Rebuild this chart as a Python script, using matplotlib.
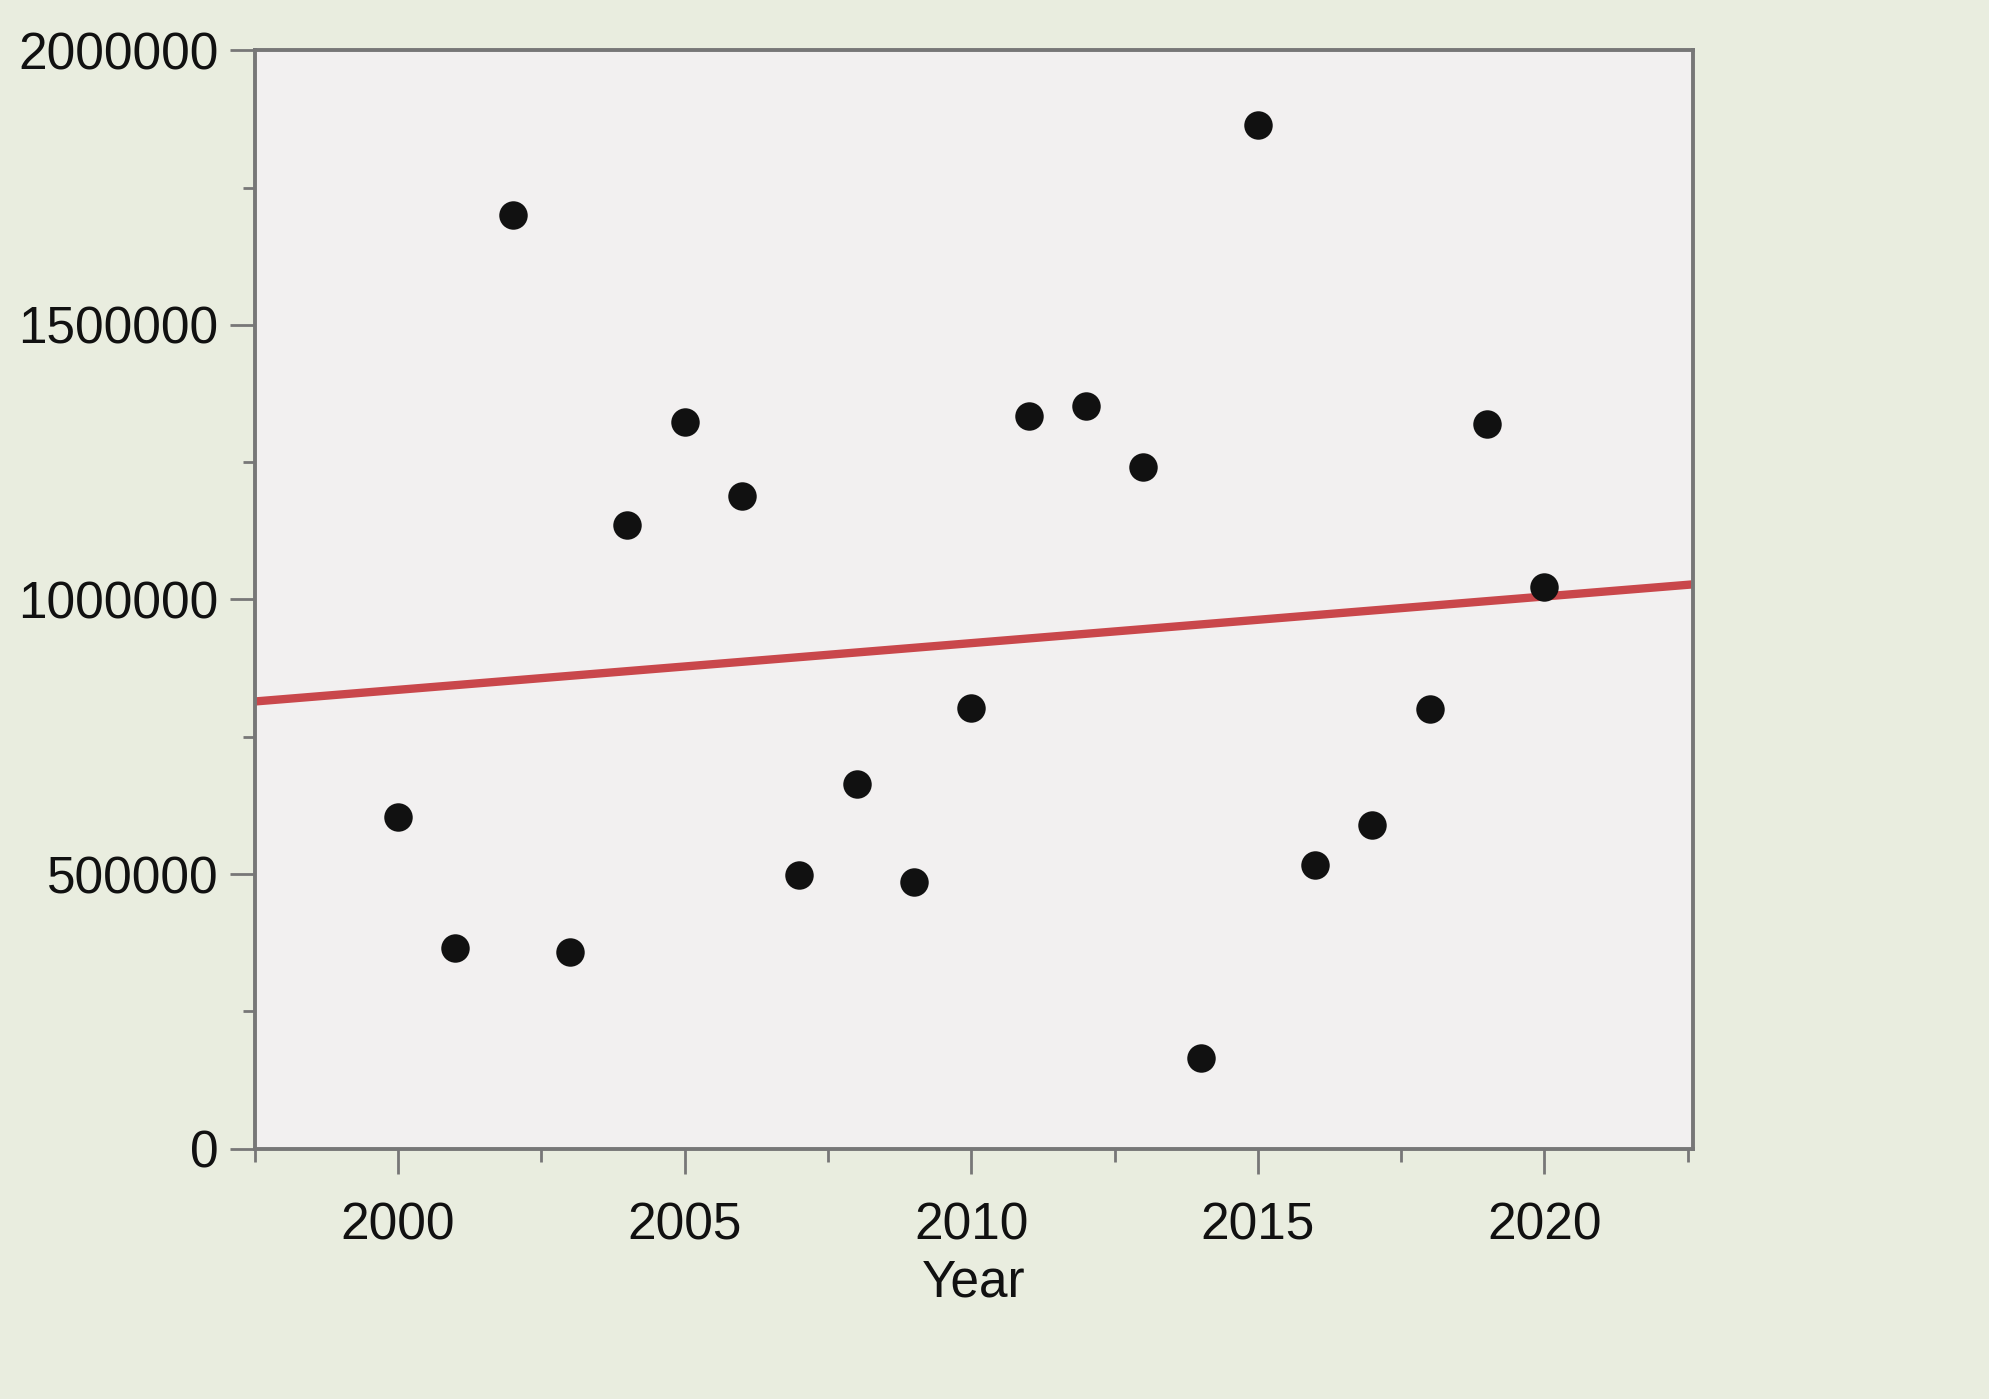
import numpy as np
import matplotlib
matplotlib.use("Agg")
import matplotlib.pyplot as plt
from matplotlib.ticker import MultipleLocator

years = [2000, 2001, 2002, 2003, 2004, 2005, 2006, 2007, 2008, 2009, 2010,
         2011, 2012, 2013, 2014, 2015, 2016, 2017, 2018, 2019, 2020]
values = [604000, 366000, 1700000, 358000, 1135000, 1323000, 1188000, 498000,
          664000, 486000, 802000, 1335000, 1353000, 1241000, 165000, 1864000,
          516000, 590000, 800000, 1319000, 1023000]
x_ticks = [2000, 2005, 2010, 2015, 2020]
y_ticks = [0, 500000, 1000000, 1500000, 2000000]

plt.rcParams['font.family'] = ['Liberation Sans', 'DejaVu Sans']

fig = plt.figure(figsize=(19.9, 13.99), dpi=100, facecolor='#e9eddf')
ax = fig.add_axes([0.128, 0.179, 0.723, 0.785])
ax.set_facecolor('#f2f0f0')

x = np.array(years, dtype=float)
y = np.array(values, dtype=float)
slope, intercept = np.polyfit(x, y, 1)
xlim = (1997.5, 2022.6)
xl = np.array(xlim)
ax.plot(xl, slope * xl + intercept, color='#c9474b', lw=6, zorder=2,
        solid_capstyle='butt')
ax.scatter(x, y, s=420, color='#111111', zorder=3, linewidths=0)

ax.set_xlim(*xlim)
ax.set_ylim(0, 2000000)
ax.set_xticks(x_ticks)
ax.set_yticks(y_ticks)
ax.set_yticklabels([str(v) for v in y_ticks])
ax.xaxis.set_minor_locator(MultipleLocator(2.5))
ax.yaxis.set_minor_locator(MultipleLocator(250000))
ax.tick_params(which='major', length=18, width=2, color='#777777',
               labelsize=37, labelcolor='#111111', pad=8)
ax.tick_params(which='minor', length=9, width=2, color='#777777')
ax.tick_params(axis='x', pad=20)
for s in ax.spines.values():
    s.set_color('#777777')
    s.set_linewidth(2.8)
ax.set_xlabel('Year', fontsize=37, color='#111111', labelpad=6)

fig.savefig('out.png', dpi=100, facecolor=fig.get_facecolor())
